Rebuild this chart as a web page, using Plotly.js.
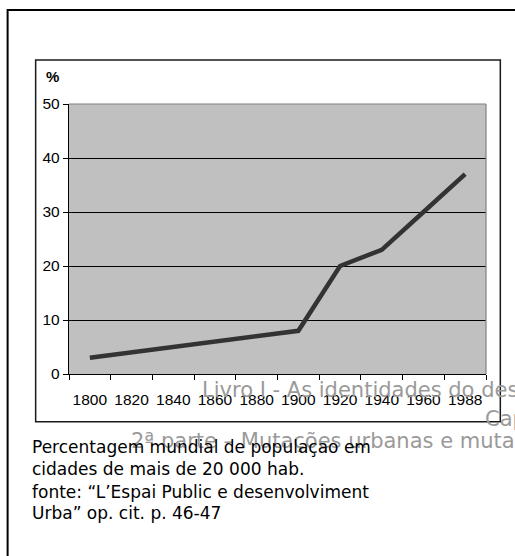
<!DOCTYPE html>
<html>
<head>
<meta charset="utf-8">
<script src="https://cdn.plot.ly/plotly-3.0.1.min.js"></script>
<style>
html,body{margin:0;padding:0;background:#fff;}
#chart{width:515px;height:556px;}
</style>
</head>
<body>
<div id="chart"></div>
<script>
// ---- data ----
const years = ["1800","1820","1840","1860","1880","1900","1920","1940","1960","1988"];
const percentUrban = [3, 4, 5, 6, 7, 8, 20, 23, 30, 37];
const yTicks = [0, 10, 20, 30, 40, 50];
const yAxisLabel = "%";
const captionLines = [
  "Percentagem mundial de populaçao em",
  "cidades de mais de 20 000 hab.",
  "fonte: \u201cL\u2019Espai Public e desenvolviment",
  "Urba\u201d op. cit. p. 46-47"
];
const watermarkLines = [
  "Livro I - As identidades do desenho",
  "Capítulo",
  "2ª parte – Mutações urbanas e mutações"
];

// ---- layout geometry (pixels) ----
const W = 515, H = 556;
const L = 69.3, R = 485.7, T = 104, B = 374.3;
const pw = R - L, ph = B - T;
const px = x => (x - L) / pw;
const py = y => (B - y) / ph;

const trace = {
  type: "scatter",
  mode: "lines",
  x: years,
  y: percentUrban,
  line: {color: "#333333", width: 4.5},
  hoverinfo: "skip"
};

const shapes = [
  {type:"rect", xref:"paper", yref:"paper", x0:px(8), x1:px(530), y0:py(10), y1:py(570),
   line:{color:"#000", width:2}, fillcolor:"rgba(0,0,0,0)", layer:"above"},
  {type:"rect", xref:"paper", yref:"paper", x0:px(36), x1:px(500), y0:py(60), y1:py(422),
   line:{color:"#1a1a1a", width:1.5}, fillcolor:"rgba(0,0,0,0)", layer:"above"},
  {type:"line", xref:"paper", yref:"paper", x0:0, x1:1, y0:1, y1:1, line:{color:"#808080", width:1.2}, layer:"above"},
  {type:"line", xref:"paper", yref:"paper", x0:1, x1:1, y0:0, y1:1, line:{color:"#808080", width:1.2}, layer:"above"}
];

const annotations = [];
annotations.push({xref:"paper", yref:"paper", x:px(44), y:py(76.5), xanchor:"left", yanchor:"middle",
  text:"<b>"+yAxisLabel+"</b>", showarrow:false, font:{family:"Liberation Sans, Arial", size:15, color:"#000"}});
const wmPos = [[200, 390], [483, 419], [129, 441]];
watermarkLines.forEach((t, i) => {
  annotations.push({xref:"paper", yref:"paper", x:px(wmPos[i][0]), y:py(wmPos[i][1]), xanchor:"left", yanchor:"middle",
    text:t, showarrow:false, font:{family:"DejaVu Sans, Verdana", size:21, color:"#9a9a9a"}});
});
const capY = [447, 469.5, 492, 513.5];
captionLines.forEach((t, i) => {
  annotations.push({xref:"paper", yref:"paper", x:px(30), y:py(capY[i]), xanchor:"left", yanchor:"middle",
    text:t, showarrow:false, font:{family:"DejaVu Sans, Verdana", size:17, color:"#000"}});
});

const layout = {
  width: W, height: H,
  margin: {l: L, r: W - R, t: T, b: H - B, pad: 0},
  paper_bgcolor: "#ffffff",
  plot_bgcolor: "#c0c0c0",
  showlegend: false,
  font: {family: "Liberation Sans, Arial", size: 15, color: "#000"},
  xaxis: {
    type: "category",
    range: [-0.5, years.length - 0.5],
    tickson: "boundaries",
    tickangle: 0,
    ticks: "outside", ticklen: 5, tickcolor: "#000", tickwidth: 1,
    ticklabelstandoff: 11,
    showline: true, linecolor: "#000", linewidth: 1.2,
    showgrid: false, zeroline: false,
    tickfont: {family: "Liberation Sans, Arial", size: 15.5, color: "#000"},
    fixedrange: true
  },
  yaxis: {
    range: [0, 50],
    tickvals: yTicks,
    ticks: "outside", ticklen: 5, tickcolor: "#000", tickwidth: 1,
    showline: true, linecolor: "#000", linewidth: 1.2,
    showgrid: true, gridcolor: "#000", gridwidth: 1,
    zeroline: false,
    tickfont: {family: "Liberation Sans, Arial", size: 15.5, color: "#000"},
    fixedrange: true
  },
  shapes: shapes,
  annotations: annotations
};

Plotly.newPlot("chart", [trace], layout, {staticPlot: true, displayModeBar: false});
</script>
</body>
</html>
